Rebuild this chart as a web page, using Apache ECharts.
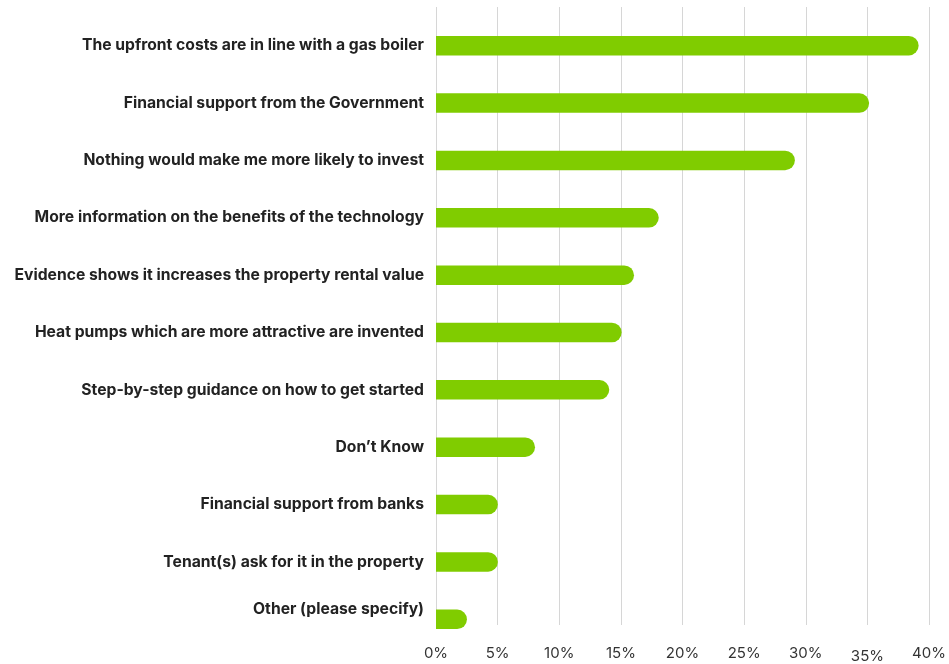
<!DOCTYPE html>
<html>
<head>
<meta charset="utf-8">
<script src="https://cdn.jsdelivr.net/npm/echarts@6/dist/echarts.min.js"></script>
<style>
  html, body { margin: 0; padding: 0; background: #ffffff; }
  #chart { width: 949px; height: 664px; }
</style>
</head>
<body>
<div id="chart"></div>
<script>
// Survey answers, top to bottom
const categories = [
  'The upfront costs are in line with a gas boiler',
  'Financial support from the Government',
  'Nothing would make me more likely to invest',
  'More information on the benefits of the technology',
  'Evidence shows it increases the property rental value',
  'Heat pumps which are more attractive are invented',
  'Step-by-step guidance on how to get started',
  'Don\u2019t Know',
  'Financial support from banks',
  'Tenant(s) ask for it in the property',
  'Other (please specify)'
];

// Share of respondents, percent
const shares = [39, 35, 29, 18, 16, 15, 14, 8, 5, 5, 2.5];

// Percent axis
const axisMin = 0;
const axisMax = 40;
const axisStep = 5;

const chart = echarts.init(document.getElementById('chart'), null, { renderer: 'canvas' });

const labelFont = 'Inter, "Noto Sans", "Liberation Sans", sans-serif';

chart.setOption({
  backgroundColor: '#ffffff',
  animation: false,
  grid: [
    // bars and answer labels
    { left: 436, right: 18, top: 17, bottom: 16, containLabel: false },
    // vertical guides and percent labels
    { left: 436, right: 18, top: 7, bottom: 37, containLabel: false }
  ],
  xAxis: [
    {
      gridIndex: 0, type: 'value', min: axisMin, max: axisMax, interval: axisStep,
      show: false
    },
    {
      gridIndex: 1, type: 'value', min: axisMin, max: axisMax, interval: axisStep,
      axisLine: { show: false },
      axisTick: { show: false },
      splitLine: { show: true, lineStyle: { color: '#d6d6d6', width: 1 } },
      axisLabel: {
        margin: 21,
        color: '#333333',
        fontSize: 15,
        fontFamily: labelFont,
        formatter: v => v === 35 ? '{low|' + v + '%}' : v + '%',
        rich: { low: { color: '#333333', fontSize: 15, fontFamily: labelFont, padding: [3, 0, 0, 0] } }
      }
    }
  ],
  yAxis: [
    {
      gridIndex: 0, type: 'category', data: categories, inverse: true,
      axisLine: { show: false },
      axisTick: { show: false },
      splitLine: { show: false },
      axisLabel: {
        margin: 12,
        color: '#222222',
        fontSize: 15.7,
        fontWeight: 'bold',
        fontFamily: labelFont,
        formatter: v => v === 'Other (please specify)' ? '{up|' + v + '}' : v,
        rich: {
          up: { color: '#222222', fontSize: 15.7, fontWeight: 'bold', fontFamily: labelFont, padding: [0, 0, 20, 0] }
        }
      }
    },
    {
      gridIndex: 1, type: 'category', data: categories, inverse: true, show: false
    }
  ],
  series: [
    {
      type: 'bar',
      xAxisIndex: 0,
      yAxisIndex: 0,
      data: shares,
      barWidth: 19.5,
      itemStyle: { color: '#80cc00', borderRadius: [0, 10, 10, 0] },
      silent: true
    }
  ]
});
</script>
</body>
</html>
